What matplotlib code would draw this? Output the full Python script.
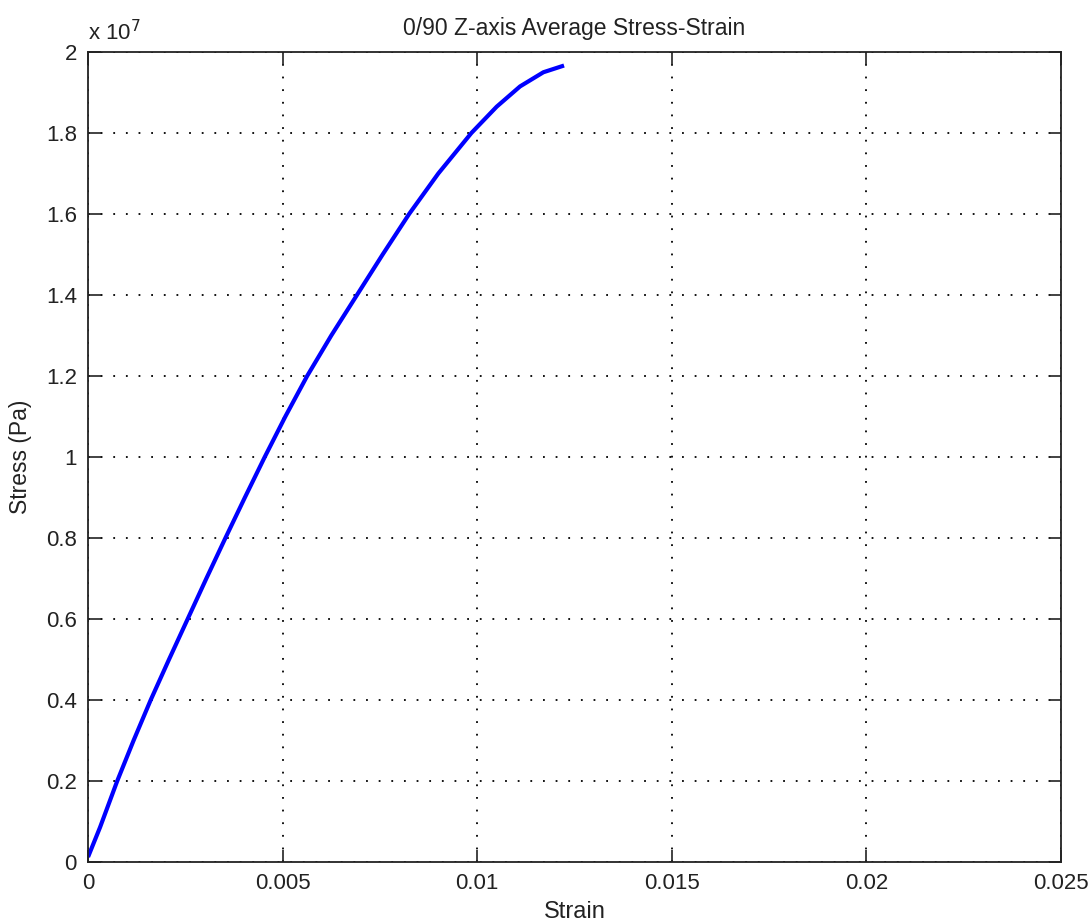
import matplotlib
matplotlib.use("Agg")
import matplotlib.pyplot as plt
from matplotlib.ticker import FuncFormatter, MultipleLocator

# values (stress in Pa)
strain = [0.00002, 0.00031, 0.00075, 0.00117, 0.00161, 0.00208,
          0.00256, 0.00304, 0.00353, 0.00403, 0.00454, 0.00507, 0.00563,
          0.00625, 0.00691, 0.00757, 0.00825, 0.009, 0.00985, 0.0105,
          0.0111, 0.0117, 0.01218]
stress = [0.017e7, 0.086e7, 0.2e7, 0.3e7, 0.4e7, 0.5e7,
          0.6e7, 0.7e7, 0.8e7, 0.9e7, 1.0e7, 1.1e7, 1.2e7,
          1.3e7, 1.4e7, 1.5e7, 1.6e7, 1.7e7, 1.8e7, 1.865e7,
          1.915e7, 1.95e7, 1.965e7]

title = "0/90 Z-axis Average Stress-Strain"
x_label = "Strain"
y_label = "Stress (Pa)"

plt.rcParams['font.family'] = ['Liberation Sans', 'DejaVu Sans']

fig = plt.figure(figsize=(10.91, 9.22), dpi=100)
ax = fig.add_axes([0.0807, 0.0651, 0.8918, 0.8785])

ax.plot(strain, stress, color='#0000ff', linewidth=3.0)

ax.set_xlim(0, 0.025)
ax.set_ylim(0, 2e7)
ax.xaxis.set_major_locator(MultipleLocator(0.005))
ax.yaxis.set_major_locator(MultipleLocator(0.2e7))
ax.xaxis.set_major_formatter(FuncFormatter(lambda v, p: '%g' % round(v, 6)))
ax.yaxis.set_major_formatter(FuncFormatter(lambda v, p: '%g' % round(v / 1e7, 6)))

ax.grid(True, color='black', linestyle=(0, (1, 6)), linewidth=1.3)
ax.tick_params(direction='in', length=9, width=1.2, labelsize=16,
               top=True, right=True, pad=8, colors='#222222')
for s in ax.spines.values():
    s.set_linewidth(1.3)
    s.set_color('#222222')

ax.set_title(title, fontsize=16.5, pad=12, color='#222222')
ax.set_xlabel(x_label, fontsize=17, labelpad=5, color='#222222')
ax.set_ylabel(y_label, fontsize=16.5, labelpad=10, color='#222222')
ax.text(0.0, 1.008, r"x 10$^{7}$", transform=ax.transAxes, fontsize=16,
        ha='left', va='bottom', color='#222222')

fig.savefig("out.png", dpi=100)
